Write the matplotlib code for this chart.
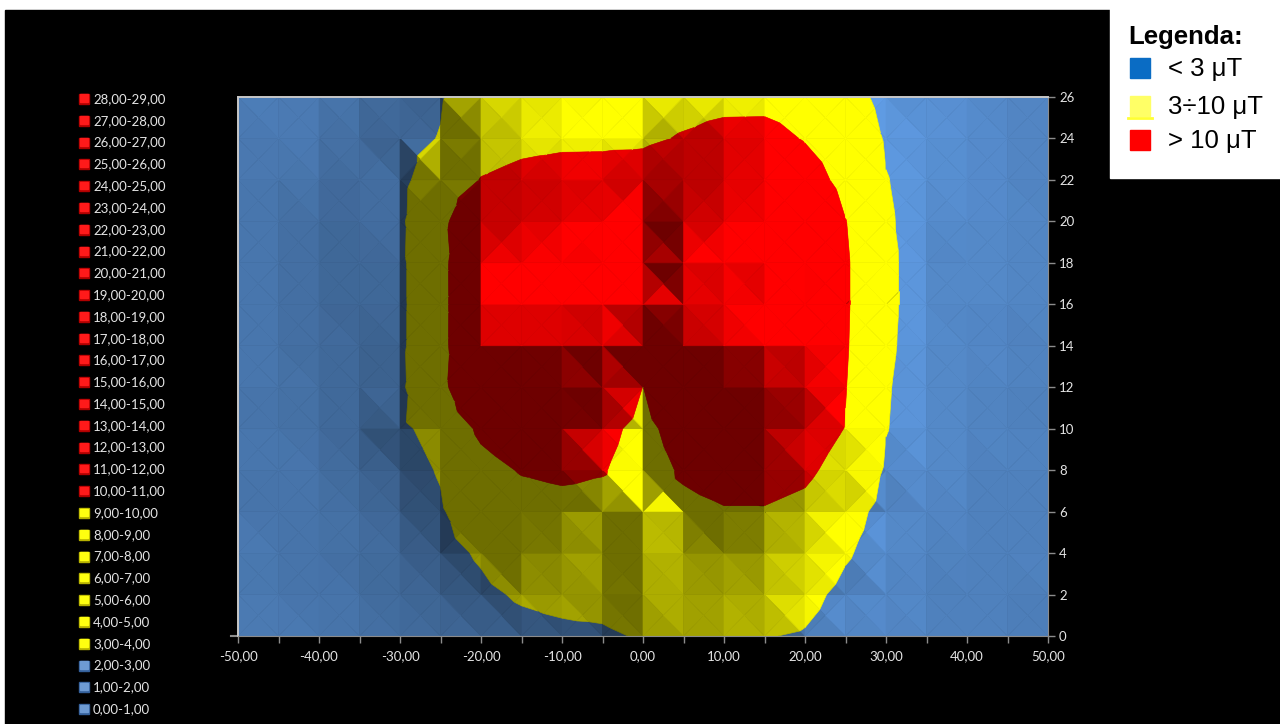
import numpy as np
import matplotlib
matplotlib.use("Agg")
import matplotlib.pyplot as plt
from matplotlib.collections import PolyCollection
from matplotlib.patches import Rectangle
from matplotlib.lines import Line2D

# Sampling grid: horizontal distance (m) and height (m)
x_positions = [-50, -45, -40, -35, -30, -25, -20, -15, -10, -5, 0,
               5, 10, 15, 20, 25, 30, 35, 40, 45, 50]
y_positions = [0, 2, 4, 6, 8, 10, 12, 14, 16, 18, 20, 22, 24, 26]

# Magnetic flux density (µT) measured along each height line
b_y00 = [0.4, 0.5, 0.6, 0.8, 1.1, 1.5, 1.9, 2.2, 2.4, 2.5, 3.3, 3.3, 3.4, 3.1, 2.8, 1.9, 1.3, 0.9, 0.7, 0.5, 0.4]
b_y02 = [0.4, 0.5, 0.7, 0.9, 1.3, 1.8, 2.5, 3.3, 3.8, 4.2, 5.2, 4.9, 5.0, 4.8, 3.8, 2.3, 1.5, 1.0, 0.8, 0.6, 0.5]
b_y04 = [0.5, 0.6, 0.8, 1.1, 1.5, 2.2, 3.3, 4.8, 5.4, 5.6, 7.0, 6.6, 6.8, 6.8, 5.5, 3.3, 1.8, 1.2, 0.9, 0.7, 0.5]
b_y06 = [0.5, 0.7, 0.9, 1.2, 1.7, 2.7, 5.0, 6.8, 7.5, 7.4, 8.5, 8.2, 9.5, 9.5, 8.0, 4.3, 2.0, 1.4, 1.0, 0.8, 0.6]
b_y08 = [0.6, 0.8, 1.0, 1.4, 2.0, 3.2, 7.5, 10.5, 11.5, 10.5, 6.5, 11.0, 13.0, 13.0, 11.5, 7.0, 2.6, 1.6, 1.1, 0.9, 0.7]
b_y10 = [0.6, 0.8, 1.1, 1.6, 2.6, 3.8, 11.5, 15.0, 15.5, 12.5, 7.5, 14.0, 17.0, 17.0, 14.0, 9.8, 3.1, 1.7, 1.2, 0.9, 0.7]
b_y12 = [0.7, 0.9, 1.2, 1.7, 2.4, 6.8, 23.0, 23.0, 22.5, 20.0, 9.9, 21.0, 23.0, 22.5, 19.0, 10.2, 3.2, 1.8, 1.3, 1.0, 0.8]
b_y14 = [0.7, 0.9, 1.3, 1.8, 2.5, 5.6, 27.5, 27.0, 26.5, 26.0, 24.0, 26.0, 26.0, 25.5, 22.5, 10.6, 3.4, 1.9, 1.4, 1.0, 0.8]
b_y16 = [0.7, 0.9, 1.3, 1.9, 2.5, 5.4, 28.5, 28.0, 27.5, 27.2, 26.5, 27.0, 26.8, 26.0, 22.5, 10.8, 3.5, 1.9, 1.5, 1.1, 0.8]
b_y18 = [0.7, 0.9, 1.3, 1.9, 2.5, 5.6, 27.5, 27.3, 27.0, 26.8, 25.0, 27.5, 27.5, 27.0, 23.5, 10.8, 3.5, 1.9, 1.5, 1.1, 0.8]
b_y20 = [0.7, 0.9, 1.3, 1.9, 2.4, 7.0, 21.0, 22.5, 23.0, 22.0, 19.5, 24.5, 25.5, 25.0, 20.5, 10.2, 3.3, 2.0, 1.5, 1.1, 0.8]
b_y22 = [0.7, 0.9, 1.2, 1.8, 2.3, 4.8, 10.3, 12.0, 13.0, 13.0, 14.0, 17.0, 19.0, 19.0, 14.0, 7.5, 3.1, 2.0, 1.4, 1.0, 0.8]
b_y24 = [0.6, 0.8, 1.0, 1.5, 2.3, 3.1, 6.5, 8.0, 8.5, 8.6, 8.7, 10.6, 12.5, 12.8, 9.5, 6.0, 2.7, 1.9, 1.3, 0.9, 0.7]
b_y26 = [0.5, 0.6, 0.8, 1.2, 1.9, 2.8, 4.5, 5.5, 6.2, 6.5, 6.6, 7.2, 7.6, 7.5, 6.5, 4.5, 2.0, 1.6, 1.1, 0.8, 0.6]

# Colour scale: 1 µT steps, grouped into three exposure zones
scale_steps = [0, 1, 2, 3, 4, 5, 6, 7, 8, 9, 10, 11, 12, 13, 14, 15, 16, 17, 18,
               19, 20, 21, 22, 23, 24, 25, 26, 27, 28, 29]
zone_limits = [3, 10]
zone_colors = ["#4F81BD", "#FFFF00", "#FF0000"]
zone_labels = ["< 3 \u03bcT", "3\u00f710 \u03bcT", "> 10 \u03bcT"]

FONT_TICK = ["Lato", "DejaVu Sans"]
FONT_BOX = ["Liberation Sans", "DejaVu Sans"]
TEXT_GREY = "#e4e4e4"
AXIS_GREY = "#8c8c8c"

field = np.array([b_y00, b_y02, b_y04, b_y06, b_y08, b_y10, b_y12, b_y14,
                  b_y16, b_y18, b_y20, b_y22, b_y24, b_y26], dtype=float)
xs = np.array(x_positions, dtype=float)
ys = np.array(y_positions, dtype=float)


def clip_poly(points, values, level, keep_above):
    """Keep the part of a linear facet lying above/below a level."""
    out_p, out_v = [], []
    n = len(points)
    for i in range(n):
        p1, v1 = points[i], values[i]
        p2, v2 = points[(i + 1) % n], values[(i + 1) % n]
        in1 = v1 >= level if keep_above else v1 <= level
        in2 = v2 >= level if keep_above else v2 <= level
        if in1:
            out_p.append(p1)
            out_v.append(v1)
        if in1 != in2:
            t = (level - v1) / (v2 - v1)
            out_p.append(p1 + t * (p2 - p1))
            out_v.append(level)
    return out_p, out_v


# Lighting for the surface facets
z_scale = 0.5
light = np.array([0.7, 0.45, 0.75])
light = light / np.linalg.norm(light)
ambient = 0.43
diffuse = (0.97 - ambient) / light[2]


def facet_shade(pts3):
    n = np.cross(pts3[1] - pts3[0], pts3[2] - pts3[0])
    if n[2] < 0:
        n = -n
    n = n / np.linalg.norm(n)
    return ambient + diffuse * max(float(n @ light), 0.0)


dx = xs[1] - xs[0]
dy = ys[1] - ys[0]
bounds = [-np.inf] + zone_limits + [np.inf]
bands = [(bounds[i], bounds[i + 1]) for i in range(len(bounds) - 1)]
base_rgb = [np.array(matplotlib.colors.to_rgb(c)) for c in zone_colors]

polys, colors = [], []
for j in range(len(ys) - 1):
    for i in range(len(xs) - 1):
        corners = [(xs[i], ys[j], field[j, i]),
                   (xs[i + 1], ys[j], field[j, i + 1]),
                   (xs[i + 1], ys[j + 1], field[j + 1, i + 1]),
                   (xs[i], ys[j + 1], field[j + 1, i])]
        cx = 0.5 * (xs[i] + xs[i + 1])
        cy = 0.5 * (ys[j] + ys[j + 1])
        cz = np.mean([c[2] for c in corners])
        for k in range(4):
            tri = [corners[k], corners[(k + 1) % 4], (cx, cy, cz)]
            pts = [np.array([t[0], t[1]]) for t in tri]
            vals = [t[2] for t in tri]
            pts3 = np.array([[t[0] / dx, t[1] / dy, t[2] * z_scale] for t in tri])
            shade = facet_shade(pts3)
            for b, (lo, hi) in enumerate(bands):
                p, v = pts, vals
                if np.isfinite(lo):
                    p, v = clip_poly(p, v, lo, True)
                if len(p) >= 3 and np.isfinite(hi):
                    p, v = clip_poly(p, v, hi, False)
                if len(p) >= 3:
                    polys.append(np.array(p))
                    colors.append(np.clip(base_rgb[b] * shade, 0, 1))

fig = plt.figure(figsize=(12.8, 7.24), dpi=100)
fig.patch.set_facecolor("white")
W, H = 1280.0, 724.0

# black chart area and the white legend box in the upper right corner
fig.add_artist(Rectangle((5 / W, 0), 1 - 5 / W, 1 - 10 / H,
                         transform=fig.transFigure, color="black", zorder=-20))
fig.add_artist(Rectangle((1110 / W, 1 - 178 / H), 170 / W, 178 / H,
                         transform=fig.transFigure, color="white", zorder=-19))

ax = fig.add_axes([238 / W, 88 / H, 810 / W, 539 / H])
ax.set_facecolor("black")
coll = PolyCollection(polys, facecolors=colors, edgecolors=colors, linewidths=0.45)
ax.add_collection(coll)
ax.set_xlim(x_positions[0], x_positions[-1])
ax.set_ylim(y_positions[0], y_positions[-1])

major_x = x_positions[::2]
ax.set_xticks(major_x)
ax.set_xticklabels([f"{v:.2f}".replace(".", ",") for v in major_x],
                   color=TEXT_GREY, fontsize=9.5, family=FONT_TICK)
ax.set_xticks(x_positions, minor=True)
ax.tick_params(axis="x", which="both", colors=AXIS_GREY, length=5, width=1,
               pad=5, labelcolor=TEXT_GREY)

ax.yaxis.tick_right()
ax.set_yticks(y_positions)
ax.set_yticklabels([str(v) for v in y_positions], color=TEXT_GREY,
                   fontsize=9.5, family=FONT_TICK)
ax.tick_params(axis="y", colors=AXIS_GREY, length=5, width=1, pad=3,
               labelcolor=TEXT_GREY)

for side in ("top", "left"):
    ax.spines[side].set_color("#c8c8c8")
    ax.spines[side].set_linewidth(1.4)
ax.spines["bottom"].set_color(AXIS_GREY)
ax.spines["right"].set_color(AXIS_GREY)
ax.spines["right"].set_linewidth(0.8)
# short stub of the depth axis at the lower-left corner
ax.add_artist(Line2D([-7 / 810, 0], [0, 0], transform=ax.transAxes,
                     color=AXIS_GREY, linewidth=1.5, clip_on=False))

# 1 µT colour-scale key on the left
steps_desc = list(zip(scale_steps[:-1], scale_steps[1:]))[::-1]
outer_tones = {0: "#34609a", 1: "#b5b000", 2: "#b00000"}
inner_tones = {0: "#6e9bd3", 1: "#ffff10", 2: "#ff1a1a"}
for n, (lo, hi) in enumerate(steps_desc):
    yc = 99 + 21.79 * n
    zone = 0 if hi <= zone_limits[0] else (1 if hi <= zone_limits[1] else 2)
    fig.add_artist(Rectangle((79 / W, 1 - (yc + 5) / H), 10 / W, 10 / H,
                             transform=fig.transFigure, color=outer_tones[zone]))
    fig.add_artist(Rectangle((80 / W, 1 - (yc + 3) / H), 7.5 / W, 7.5 / H,
                             transform=fig.transFigure, color=inner_tones[zone]))
    label = f"{lo:.2f}-{hi:.2f}".replace(".", ",")
    fig.text(93 / W, 1 - yc / H, label, color=TEXT_GREY, fontsize=9.5,
             family=FONT_TICK, ha="left", va="center")

# Exposure-zone legend
fig.text(1128 / W, 1 - 37 / H, "Legenda:", fontsize=18.5, fontweight="bold",
         family=FONT_BOX, ha="left", va="center", color="black")
key_rows = [68, 106, 140]
key_fill = ["#0A6CC4", "#FFFF66", "#FF0000"]
for yc, fill, text in zip(key_rows, key_fill, zone_labels):
    fig.add_artist(Rectangle((1130 / W, 1 - (yc + 10) / H), 20 / W, 20 / H,
                             transform=fig.transFigure, color=fill))
    fig.text(1168 / W, 1 - (yc + 1) / H, text, fontsize=18.5, family=FONT_BOX,
             ha="left", va="center", color="black")
fig.add_artist(Line2D([1128 / W, 1152 / W], [1 - 118 / H, 1 - 118 / H],
                      transform=fig.transFigure, color="#FFFF33", linewidth=2))

fig.savefig("out.png", dpi=100, facecolor=fig.get_facecolor())
